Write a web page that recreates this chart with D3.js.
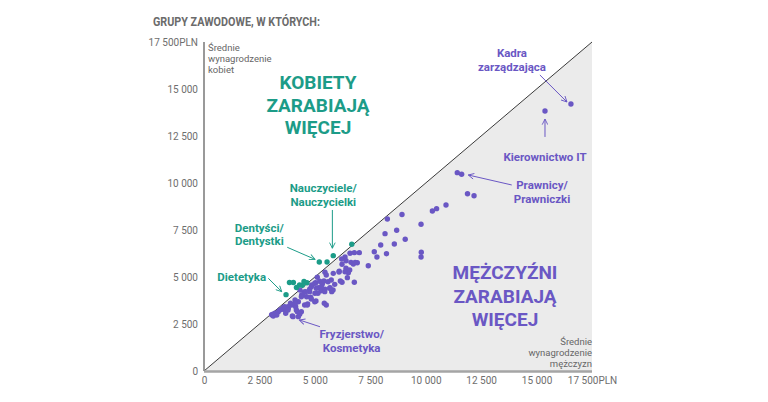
<!DOCTYPE html>
<html>
<head>
<meta charset="utf-8">
<script src="https://d3js.org/d3.v7.min.js"></script>
<style>
  body { margin: 0; background: #fff; }
  text { font-family: Roboto, "Noto Sans", sans-serif; }
</style>
</head>
<body>
<svg id="chart" width="768" height="402"></svg>
<script>
// average salary of men (x) and women (y), PLN
var menPurple = [16550, 15380, 11425, 11620, 11885, 12180, 10300, 10490, 10915, 8270,
  8930, 9790, 8165, 8690, 7970, 8585, 9075, 8230, 9800, 9790,
  7680, 7800, 7410, 6360, 6585, 6780, 7005, 6405, 6630, 6735,
  6915, 6225, 6100, 5830, 6405, 6510, 6465, 6225, 6780, 5455,
  5110, 6150, 5895, 5040, 5220, 5335, 4860, 4765, 5155, 5275,
  5455, 5685, 5760, 5005, 4525, 4330, 4405, 4630, 4810, 5050,
  5425, 4675, 4255, 4105, 3955, 4135, 3800, 3655, 3505, 3350,
  3200, 4210, 4255, 3985, 3685, 3280, 3125, 6210, 6090, 6360,
  5515, 3050, 3420, 3580, 3900, 4450, 6570, 5410, 5595, 5740,
  5820, 5670, 5290, 5445, 4995, 4840, 5065, 5140, 4765, 4585,
  4840, 4995, 5515, 4390, 4540, 4120, 3790, 3640, 3790, 4165,
  4390, 4015, 4315, 4660, 3110, 6815];
var womenPurple = [14200, 13830, 10550, 10465, 9430, 9325, 8510, 8635, 8830, 8085,
  8325, 7805, 7305, 7490, 6700, 6755, 7005, 6240, 6315, 6065,
  6345, 6065, 5600, 6065, 6260, 6295, 6295, 5865, 5780, 5690,
  5760, 5675, 5305, 5195, 5465, 5230, 4965, 4720, 4720, 5250,
  4985, 4785, 4610, 4695, 4770, 4630, 4575, 4345, 4430, 4270,
  4345, 4430, 4220, 4135, 4200, 4310, 4045, 3950, 3920, 3725,
  3600, 3565, 3685, 3775, 3510, 3420, 3335, 3245, 3280, 3155,
  3070, 3155, 2890, 2925, 3070, 2980, 2925, 5955, 5265, 5280,
  5105, 2990, 3250, 3380, 3600, 4050, 5370, 4785, 4750, 4840,
  4310, 4400, 4485, 4220, 4665, 4485, 4400, 4130, 4220, 4220,
  3830, 3685, 3510, 3950, 3510, 3600, 3420, 3420, 3245, 3245,
  3155, 2890, 3015, 3510, 3015, 5780];
var menTeal = [6665, 5830, 5550, 5200, 3700, 3855, 4030, 4170, 4510, 4645, 4435, 4310];
var womenTeal = [6740, 6135, 5800, 5800, 4060, 4705, 4705, 4440, 4760, 4695, 4560, 4575];

var ticks = [0, 2500, 5000, 7500, 10000, 12500, 15000, 17500];
var tickLabels = ["0", "2 500", "5 000", "7 500", "10 000", "12 500", "15 000", "17 500PLN"];

var teal = "#1c9c88", purple = "#6a57c4";

// annotations: label anchor, arrow start, arrow end (data units)
var notes = [
  {lines: ["Kadra", "zarządzająca"], lx: 13890, ly: 16700, a: [15150, 15745], b: [16370, 14310], c: purple},
  {lines: ["Kierownictwo IT"], lx: 15380, ly: 11170, a: [15380, 12450], b: [15380, 13400], c: purple},
  {lines: ["Prawnicy/", "Prawniczki"], lx: 15245, ly: 9680, a: [13880, 9895], b: [11920, 10425], c: purple},
  {lines: ["Nauczyciele/", "Nauczycielki"], lx: 5380, ly: 9520, a: [5790, 8565], b: [5790, 6530], c: teal},
  {lines: ["Dentyści/", "Dentystki"], lx: 2495, ly: 7395, a: [3755, 6580], b: [5005, 5940], c: teal},
  {lines: ["Dietetyka"], lx: 1700, ly: 4785, a: [2900, 4930], b: [3505, 4220], c: teal},
  {lines: ["Fryzjerstwo/", "Kosmetyka"], lx: 6660, ly: 1755, a: [5230, 2355], b: [4300, 2715], c: purple}
];

var svg = d3.select("#chart");
var x = d3.scaleLinear().domain([0, 17500]).range([204, 592]);
var y = d3.scaleLinear().domain([0, 17500]).range([371, 42]);

svg.append("text").attr("x", 153).attr("y", 26)
  .attr("font-size", 12.5).attr("font-weight", 700).attr("fill", "#6b6b6b")
  .attr("textLength", 167).attr("lengthAdjust", "spacingAndGlyphs")
  .text("GRUPY ZAWODOWE, W KTÓRYCH:");

// grey triangle: men earn more
svg.append("path")
  .attr("d", "M" + x(0) + "," + y(0) + "L" + x(17500) + "," + y(17500) + "L" + x(17500) + "," + y(0) + "Z")
  .attr("fill", "#ebebeb");
svg.append("line")
  .attr("x1", x(0)).attr("y1", y(0)).attr("x2", x(17500)).attr("y2", y(17500))
  .attr("stroke", "#3a3a3a").attr("stroke-width", 1);

// axes
var yAxis = d3.axisLeft(y).tickValues(ticks).tickSize(0).tickPadding(6)
  .tickFormat((d, i) => tickLabels[i]);
var xAxis = d3.axisBottom(x).tickValues(ticks).tickSize(0).tickPadding(6)
  .tickFormat((d, i) => tickLabels[i]);
var gy = svg.append("g").attr("transform", "translate(204,0)").call(yAxis);
var gx = svg.append("g").attr("transform", "translate(0,371)").call(xAxis);
[gx, gy].forEach(g => {
  g.select(".domain").remove();
  g.selectAll("text").attr("font-family", "Roboto").attr("font-size", 10).attr("fill", "#6e6e6e");
});
svg.append("line").attr("x1", 204).attr("x2", 204).attr("y1", y(17500)).attr("y2", y(0))
  .attr("stroke", "#555").attr("stroke-width", 1.2);
svg.append("line").attr("x1", 204).attr("x2", x(17500)).attr("y1", y(0) + 0.5).attr("y2", y(0) + 0.5)
  .attr("stroke", "#a5a5a5").attr("stroke-width", 2.5);

// axis titles
svg.append("text").attr("x", 208).attr("y", 51).attr("font-size", 9.5).attr("fill", "#666")
  .selectAll("tspan").data(["Średnie", "wynagrodzenie", "kobiet"]).enter().append("tspan")
  .attr("x", 208).attr("dy", (d, i) => i ? 10.8 : 0).text(d => d);
svg.append("text").attr("y", 345).attr("font-size", 9.5).attr("fill", "#666").attr("text-anchor", "end")
  .selectAll("tspan").data(["Średnie", "wynagrodzenie", "mężczyzn"]).enter().append("tspan")
  .attr("x", 592).attr("dy", (d, i) => i ? 10.8 : 0).text(d => d);

// big labels
svg.append("text").attr("y", 89).attr("font-size", 19).attr("font-weight", 700).attr("fill", teal)
  .attr("text-anchor", "middle")
  .selectAll("tspan").data(["KOBIETY", "ZARABIAJĄ", "WIĘCEJ"]).enter().append("tspan")
  .attr("x", 318).attr("dy", (d, i) => i ? 22.5 : 0).text(d => d);
svg.append("text").attr("y", 279).attr("font-size", 19).attr("font-weight", 700).attr("fill", purple)
  .attr("text-anchor", "middle")
  .selectAll("tspan").data(["MĘŻCZYŹNI", "ZARABIAJĄ", "WIĘCEJ"]).enter().append("tspan")
  .attr("x", 505).attr("dy", (d, i) => i ? 23.5 : 0).text(d => d);

// dots
svg.append("g").selectAll("circle").data(d3.range(menPurple.length)).enter().append("circle")
  .attr("cx", i => x(menPurple[i])).attr("cy", i => y(womenPurple[i])).attr("r", 2.7)
  .attr("fill", purple);
svg.append("g").selectAll("circle").data(d3.range(menTeal.length)).enter().append("circle")
  .attr("cx", i => x(menTeal[i])).attr("cy", i => y(womenTeal[i])).attr("r", 2.7)
  .attr("fill", teal);

// annotations
var defs = svg.append("defs");
[["headP", purple], ["headT", teal]].forEach(m => {
  defs.append("marker").attr("id", m[0]).attr("viewBox", "0 0 10 10").attr("refX", 9).attr("refY", 5)
    .attr("markerWidth", 7).attr("markerHeight", 7).attr("orient", "auto")
    .append("path").attr("d", "M1,1L9,5L1,9").attr("fill", "none").attr("stroke", m[1]).attr("stroke-width", 1.3);
});
notes.forEach(n => {
  svg.append("line")
    .attr("x1", x(n.a[0])).attr("y1", y(n.a[1])).attr("x2", x(n.b[0])).attr("y2", y(n.b[1]))
    .attr("stroke", n.c).attr("stroke-width", 1)
    .attr("marker-end", "url(#" + (n.c === teal ? "headT" : "headP") + ")");
  svg.append("text").attr("y", y(n.ly)).attr("font-size", 11.5).attr("font-weight", 700)
    .attr("fill", n.c).attr("text-anchor", "middle")
    .selectAll("tspan").data(n.lines).enter().append("tspan")
    .attr("x", x(n.lx)).attr("dy", (d, i) => i ? 13.5 : 0).text(d => d);
});
</script>
</body>
</html>
